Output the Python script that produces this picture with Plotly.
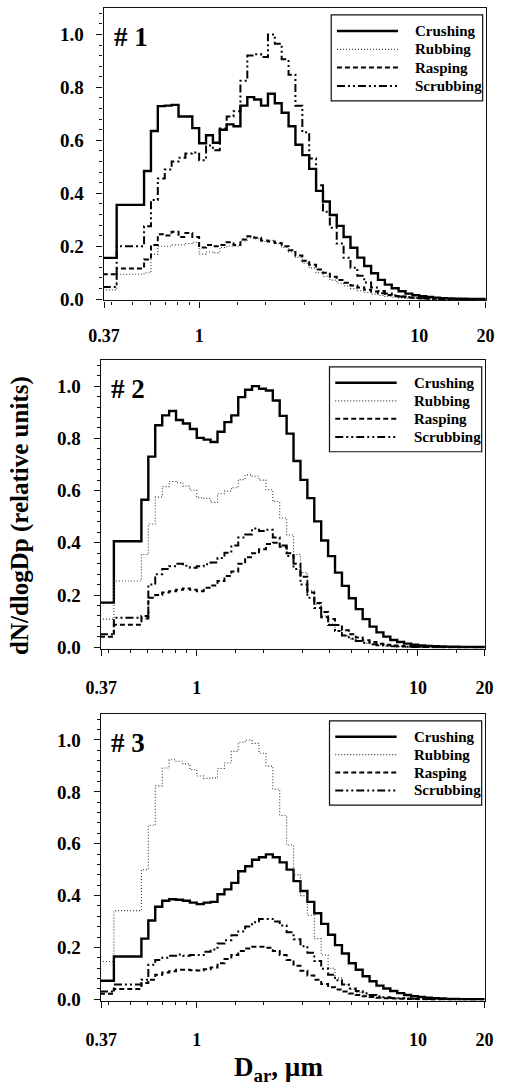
import math
import plotly.graph_objects as go

# APS channel boundaries (µm): two wide low-size channels, then 32 channels per decade
bin_edges = [0.365, 0.422, 0.562, 0.604, 0.649, 0.698, 0.750, 0.806, 0.866, 0.931,
             1.000, 1.075, 1.155, 1.241, 1.334, 1.433, 1.540, 1.655, 1.778, 1.911,
             2.054, 2.207, 2.371, 2.548, 2.738, 2.943, 3.162, 3.398, 3.652, 3.924,
             4.217, 4.532, 4.870, 5.233, 5.623, 6.043, 6.494, 6.978, 7.499, 8.058,
             8.660, 9.306, 10.000, 10.746, 11.548, 12.409, 13.335, 14.330, 15.399,
             16.548, 17.783, 19.110, 20.535]

# ---- sample #1 (dN/dlogDp, relative units) ----
p1_crushing = [0.156, 0.356,
               0.484, 0.635, 0.729, 0.731, 0.734, 0.690, 0.690, 0.646,
               0.589, 0.619, 0.591, 0.640, 0.660, 0.653, 0.731, 0.763, 0.754, 0.731,
               0.776, 0.740, 0.704, 0.653, 0.583, 0.544, 0.492, 0.409, 0.369, 0.318,
               0.277, 0.235, 0.194, 0.157, 0.125, 0.098, 0.073, 0.055, 0.041, 0.030,
               0.021, 0.015, 0.011, 0.008, 0.006, 0.004, 0.003, 0.002, 0.002, 0.001, 0.001, 0.001]
p1_rubbing = [0.035, 0.094,
              0.100, 0.170, 0.200, 0.200, 0.205, 0.205, 0.210, 0.215,
              0.170, 0.178, 0.175, 0.195, 0.200, 0.200, 0.220, 0.232, 0.228, 0.218,
              0.222, 0.210, 0.195, 0.178, 0.158, 0.136, 0.118, 0.100, 0.086, 0.072,
              0.060, 0.050, 0.040, 0.032, 0.025, 0.019, 0.014, 0.010, 0.007, 0.005,
              0.004, 0.003, 0.002, 0.001, 0.001, 0.001, 0.0, 0.0, 0.0, 0.0, 0.0, 0.0]
p1_rasping = [0.094, 0.116,
              0.150, 0.205, 0.245, 0.240, 0.255, 0.235, 0.250, 0.235,
              0.195, 0.205, 0.200, 0.205, 0.215, 0.205, 0.225, 0.238, 0.232, 0.222,
              0.218, 0.212, 0.200, 0.185, 0.165, 0.145, 0.130, 0.112, 0.100, 0.085,
              0.072, 0.062, 0.052, 0.044, 0.036, 0.029, 0.022, 0.016, 0.012, 0.009,
              0.006, 0.004, 0.003, 0.002, 0.002, 0.001, 0.001, 0.001, 0.0, 0.0, 0.0, 0.0]
p1_scrubbing = [0.046, 0.200,
                0.275, 0.375, 0.456, 0.490, 0.520, 0.534, 0.550, 0.554,
                0.525, 0.580, 0.562, 0.645, 0.690, 0.710, 0.825, 0.920, 0.925, 0.915,
                1.000, 0.965, 0.906, 0.848, 0.731, 0.630, 0.531, 0.430, 0.330, 0.270,
                0.210, 0.156, 0.119, 0.088, 0.063, 0.044, 0.031, 0.021, 0.015, 0.010,
                0.007, 0.005, 0.003, 0.002, 0.002, 0.001, 0.001, 0.001, 0.0, 0.0, 0.0, 0.0]

# ---- sample #2 ----
p2_crushing = [0.171, 0.406,
               0.565, 0.730, 0.850, 0.888, 0.905, 0.870, 0.857, 0.836,
               0.802, 0.795, 0.786, 0.825, 0.862, 0.888, 0.958, 0.986, 1.000, 0.990,
               0.983, 0.945, 0.886, 0.818, 0.713, 0.641, 0.571, 0.482, 0.409, 0.349,
               0.286, 0.235, 0.188, 0.146, 0.108, 0.079, 0.057, 0.041, 0.028, 0.020,
               0.014, 0.010, 0.007, 0.005, 0.004, 0.003, 0.002, 0.002, 0.001, 0.001, 0.001, 0.001]
p2_rubbing = [0.108, 0.254,
              0.355, 0.472, 0.575, 0.615, 0.635, 0.630, 0.617, 0.601,
              0.573, 0.570, 0.555, 0.588, 0.598, 0.611, 0.642, 0.660, 0.655, 0.640,
              0.603, 0.558, 0.495, 0.430, 0.355, 0.286, 0.216, 0.165, 0.120, 0.089,
              0.063, 0.044, 0.032, 0.022, 0.015, 0.010, 0.007, 0.005, 0.003, 0.002,
              0.001, 0.001, 0.001, 0.0, 0.0, 0.0, 0.0, 0.0, 0.0, 0.0, 0.0, 0.0]
p2_rasping = [0.040, 0.086,
              0.110, 0.190, 0.200, 0.210, 0.215, 0.220, 0.225, 0.220,
              0.215, 0.228, 0.237, 0.254, 0.273, 0.290, 0.320, 0.345, 0.360, 0.375,
              0.395, 0.400, 0.385, 0.360, 0.320, 0.270, 0.210, 0.170, 0.135, 0.108,
              0.085, 0.065, 0.050, 0.037, 0.027, 0.020, 0.014, 0.010, 0.007, 0.005,
              0.003, 0.002, 0.002, 0.001, 0.001, 0.0, 0.0, 0.0, 0.0, 0.0, 0.0, 0.0]
p2_scrubbing = [0.050, 0.113,
                0.120, 0.240, 0.280, 0.300, 0.310, 0.320, 0.312, 0.305,
                0.310, 0.318, 0.325, 0.342, 0.362, 0.390, 0.420, 0.432, 0.455, 0.445,
                0.450, 0.420, 0.390, 0.350, 0.300, 0.240, 0.190, 0.150, 0.115, 0.085,
                0.062, 0.045, 0.033, 0.024, 0.017, 0.012, 0.008, 0.006, 0.004, 0.003,
                0.002, 0.001, 0.001, 0.001, 0.0, 0.0, 0.0, 0.0, 0.0, 0.0, 0.0, 0.0]

# ---- sample #3 ----
p3_crushing = [0.072, 0.165,
               0.234, 0.304, 0.357, 0.380, 0.386, 0.384, 0.380, 0.373,
               0.367, 0.373, 0.376, 0.405, 0.424, 0.449, 0.494, 0.513, 0.538, 0.548,
               0.559, 0.548, 0.528, 0.500, 0.456, 0.418, 0.376, 0.332, 0.291, 0.249,
               0.209, 0.177, 0.139, 0.114, 0.089, 0.070, 0.053, 0.042, 0.032, 0.024,
               0.017, 0.012, 0.009, 0.006, 0.004, 0.003, 0.002, 0.002, 0.001, 0.001, 0.001, 0.001]
p3_rubbing = [0.146, 0.342,
              0.500, 0.671, 0.823, 0.892, 0.924, 0.918, 0.908, 0.886,
              0.861, 0.852, 0.854, 0.890, 0.911, 0.956, 0.991, 1.000, 0.987, 0.949,
              0.899, 0.810, 0.709, 0.595, 0.481, 0.400, 0.324, 0.234, 0.171, 0.120,
              0.082, 0.057, 0.038, 0.026, 0.018, 0.012, 0.008, 0.005, 0.004, 0.003,
              0.002, 0.001, 0.001, 0.0, 0.0, 0.0, 0.0, 0.0, 0.0, 0.0, 0.0, 0.0]
p3_rasping = [0.022, 0.040,
              0.063, 0.076, 0.095, 0.104, 0.108, 0.114, 0.114, 0.112,
              0.111, 0.116, 0.123, 0.139, 0.156, 0.171, 0.186, 0.196, 0.203, 0.203,
              0.199, 0.186, 0.171, 0.152, 0.130, 0.110, 0.092, 0.076, 0.059, 0.047,
              0.038, 0.030, 0.023, 0.017, 0.012, 0.009, 0.006, 0.004, 0.003, 0.002,
              0.001, 0.001, 0.0, 0.0, 0.0, 0.0, 0.0, 0.0, 0.0, 0.0, 0.0, 0.0]
p3_scrubbing = [0.030, 0.057,
                0.076, 0.133, 0.152, 0.160, 0.168, 0.173, 0.168, 0.171,
                0.171, 0.184, 0.192, 0.215, 0.228, 0.247, 0.262, 0.281, 0.297, 0.310,
                0.310, 0.300, 0.285, 0.259, 0.232, 0.205, 0.180, 0.148, 0.118, 0.095,
                0.074, 0.057, 0.042, 0.032, 0.024, 0.017, 0.012, 0.008, 0.005, 0.004,
                0.003, 0.002, 0.001, 0.001, 0.0, 0.0, 0.0, 0.0, 0.0, 0.0, 0.0, 0.0]

series_names = ["Crushing", "Rubbing", "Rasping", "Scrubbing"]
panel_labels = ["# 1", "# 2", "# 3"]
panels = [
    [p1_crushing, p1_rubbing, p1_rasping, p1_scrubbing],
    [p2_crushing, p2_rubbing, p2_rasping, p2_scrubbing],
    [p3_crushing, p3_rubbing, p3_rasping, p3_scrubbing],
]

x_tick_vals = [0.37, 1, 10, 20]
x_tick_text = ["0.37", "1", "10", "20"]
x_minor_vals = [0.4, 0.5, 0.6, 0.7, 0.8, 0.9, 1.5, 2, 3, 4, 5, 6, 7, 8, 9, 15]
y_tick_vals = [0.0, 0.2, 0.4, 0.6, 0.8, 1.0]
y_tick_text = ["0.0", "0.2", "0.4", "0.6", "0.8", "1.0"]

W, H = 505, 1088
SERIF = "Liberation Serif, Times New Roman, serif"

line_styles = {
    "Crushing": dict(color="black", width=2.4, dash="solid"),
    "Rubbing": dict(color="#3a3a3a", width=1.1, dash="1px,2px"),
    "Rasping": dict(color="black", width=2.0, dash="5px,3px"),
    "Scrubbing": dict(color="black", width=2.0, dash="8px,3px,2px,3px,2px,3px"),
}

# plot-area boxes in pixels: (left, right, top, bottom) and x tick-label offsets
boxes = [(93, 494, 8, 303), (90, 493, 363, 654), (90, 493, 720, 1009)]
x_label_standoff = [13, 17, 17]

fig = go.Figure()
for p, series in enumerate(panels):
    ax = "" if p == 0 else str(p + 1)
    for name, vals in zip(series_names, series):
        fig.add_trace(go.Scatter(
            x=bin_edges, y=vals + [vals[-1]], mode="lines", line_shape="hv",
            line=line_styles[name], name=name, showlegend=False,
            xaxis="x" + ax, yaxis="y" + ax, hoverinfo="skip"))

layout = dict(width=W, height=H, margin=dict(l=0, r=0, t=0, b=0),
              paper_bgcolor="white", plot_bgcolor="white", showlegend=False)

axis_common = dict(showline=True, linecolor="#111", linewidth=1.2, mirror=True,
                   showgrid=False, zeroline=False, ticks="outside", tickcolor="#111",
                   tickwidth=1, ticklen=6,
                   tickfont=dict(family=SERIF, size=18, color="black", weight="bold"))

annotations = []
shapes = []
for p, (l, r, t, b) in enumerate(boxes):
    ax = "" if p == 0 else str(p + 1)
    layout["xaxis" + ax] = dict(
        axis_common, type="log", range=[math.log10(0.368), math.log10(20)],
        domain=[l / W, r / W], anchor="y" + ax,
        tickmode="array", tickvals=x_tick_vals, ticktext=x_tick_text,
        ticklabelstandoff=x_label_standoff[p],
        minor=dict(tickmode="array", tickvals=x_minor_vals, ticks="outside",
                   ticklen=3, tickcolor="#111", showgrid=False))
    layout["yaxis" + ax] = dict(
        axis_common, range=[-0.005, 1.1], domain=[1 - b / H, 1 - t / H],
        anchor="x" + ax, tickmode="array", tickvals=y_tick_vals, ticktext=y_tick_text,
        ticklabelstandoff=9,
        tickfont=dict(family=SERIF, size=19, color="black", weight="bold"),
        minor=dict(dtick=0.04, ticks="outside", ticklen=3, tickcolor="#111",
                   showgrid=False))

    xr, yr = "x" + ax + " domain", "y" + ax + " domain"
    # panel number
    annotations.append(dict(text=panel_labels[p], xref=xr, yref=yr, x=0.022, y=0.9,
                            xanchor="left", yanchor="middle", showarrow=False,
                            font=dict(family=SERIF, size=27, color="black", weight="bold")))
    # legend box
    shapes.append(dict(type="rect", xref=xr, yref=yr, x0=0.596, x1=0.9925,
                       y0=0.682, y1=0.976, line=dict(color="#111", width=1.2),
                       fillcolor="white", layer="above"))
    for i, name in enumerate(series_names):
        yy = 0.921 - i * 0.0625
        st = line_styles[name]
        shapes.append(dict(type="line", xref=xr, yref=yr, x0=0.611, x1=0.771,
                           y0=yy, y1=yy, layer="above",
                           line=dict(color=st["color"], width=st["width"], dash=st["dash"])))
        annotations.append(dict(text=name, xref=xr, yref=yr, x=0.81, y=yy,
                                xanchor="left", yanchor="middle", showarrow=False,
                                font=dict(family=SERIF, size=15, color="black",
                                          weight="bold")))

annotations.append(dict(text="dN/dlogDp (relative units)", xref="paper", yref="paper",
                        x=4.5 / W, y=1 - 520 / H, textangle=-90, showarrow=False,
                        xanchor="center", yanchor="middle",
                        font=dict(family=SERIF, size=25, color="black", weight="bold")))
annotations.append(dict(text="D<sub>ar</sub>, µm", xref="paper", yref="paper",
                        x=277 / W, y=1 - 1078 / H, showarrow=False,
                        xanchor="center", yanchor="middle",
                        font=dict(family=SERIF, size=27, color="black", weight="bold")))

layout["annotations"] = annotations
layout["shapes"] = shapes
fig.update_layout(**layout)
fig.write_html("out.html")
